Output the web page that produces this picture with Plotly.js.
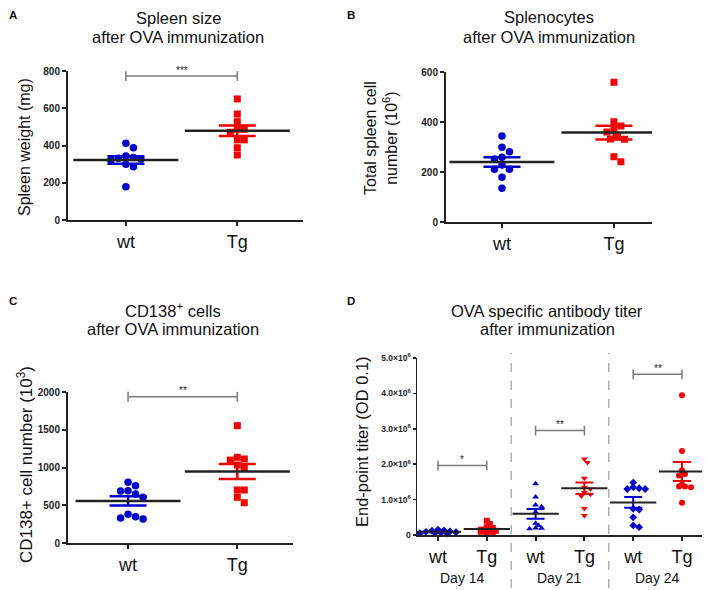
<!DOCTYPE html>
<html>
<head>
<meta charset="utf-8">
<script src="https://cdn.plot.ly/plotly-3.0.1.min.js"></script>
<style>
  body { margin: 0; background: #fff; }
  #chart { width: 708px; height: 590px; }
</style>
</head>
<body>
<div id="chart"></div>
<script>
// groups
const groups = ['wt', 'Tg'];
const titerGroups = ['wt', 'Tg', 'wt', 'Tg', 'wt', 'Tg'];
const titerDays = ['Day 14', 'Day 21', 'Day 24'];

// A: spleen weight (mg)
const spleenWt = [412, 388, 335, 331, 344, 322, 327, 299, 286, 179];
const spleenTg = [650, 569, 528, 487, 471, 487, 430, 430, 388, 349];

// B: total spleen cell number (10^6)
const cellsWt = [344, 299, 281, 259, 252, 228, 211, 211, 179, 135];
const cellsTg = [559, 401, 384, 360, 368, 341, 332, 331, 261, 241];

// C: CD138+ cell number (10^3)
const cd138Wt = [804, 759, 693, 689, 649, 605, 349, 380, 318, 331];
const cd138Tg = [1554, 1135, 1113, 1099, 989, 1033, 702, 702, 605, 534];

// D: end-point titer, in units of 10^6
const titerWt14 = [0.15, 0.13, 0.12, 0.10, 0.09, 0.08, 0.07, 0.06, 0.05, 0.04];
const titerTg14 = [0.40, 0.31, 0.22, 0.20, 0.15, 0.14, 0.12, 0.09, 0.05, 0.04];
const titerWt21 = [1.45, 1.07, 0.85, 0.80, 0.65, 0.33, 0.27, 0.20, 0.18, 0.19];
const titerTg21 = [2.15, 2.05, 1.60, 1.35, 1.30, 1.20, 1.15, 1.10, 0.75, 0.55];
const titerWt24 = [1.48, 1.35, 1.30, 1.30, 1.32, 0.74, 0.72, 0.50, 0.22, 0.27];
const titerTg24 = [3.95, 2.37, 1.82, 1.72, 1.68, 1.43, 1.37, 1.35, 1.37, 0.91];

const starsABC = ['***', '**', '**'];
const starsD = ['*', '**', '**'];

const W = 708, H = 590;
const BLUE = 'rgb(0,0,205)';
const RED = 'rgb(245,0,0)';
const AXC = '#222';
const FONT = 'Liberation Sans, Arial, sans-serif';

// pixel boxes of the four plot areas [x0, x1, yTop, yBottom]
const boxA = [68, 303, 71, 220];
const boxB = [446, 652, 72, 222];
const boxC = [68, 293, 392, 543];
const boxD = [417, 702, 358, 535];

function xdom(b) { return [b[0] / W, b[1] / W]; }
function ydom(b) { return [(H - b[3]) / H, (H - b[2]) / H]; }

function mean(v) { return v.reduce((s, a) => s + a, 0) / v.length; }
function sem(v) {
  const m = mean(v);
  const ss = v.reduce((s, a) => s + (a - m) * (a - m), 0);
  return Math.sqrt(ss / (v.length - 1)) / Math.sqrt(v.length);
}

// simple beeswarm so points do not sit on top of each other
function swarm(values, center, pxX, pxY, d, gap) {
  const order = values.map((v, i) => i).sort((a, b) => values[b] - values[a]);
  const placed = [];
  const xs = new Array(values.length);
  order.forEach(i => {
    const yp = values[i] * pxY;
    let off = 0;
    for (let k = 0; k < 60; k++) {
      const cand = (k % 2 ? 1 : -1) * Math.ceil(k / 2) * d * 0.5;
      const hit = placed.some(p => Math.hypot(p[0] - cand, p[1] - yp) < d * gap);
      if (!hit) { off = cand; break; }
    }
    placed.push([off, yp]);
    xs[i] = center + off / pxX;
  });
  return xs;
}

const traces = [];

function addGroup(xa, ya, box, xr, yr, values, pos, color, symbol, size, gap, meanW, capW, thick) {
  const pxX = (box[1] - box[0]) / (xr[1] - xr[0]);
  const pxY = (box[3] - box[2]) / (yr[1] - yr[0]);
  traces.push({
    type: 'scatter', mode: 'markers', xaxis: xa, yaxis: ya,
    x: swarm(values, pos, pxX, pxY, size, gap), y: values,
    marker: {color: color, symbol: symbol, size: size, line: {width: 0}},
    cliponaxis: false, hoverinfo: 'y'
  });
  traces.push({
    type: 'scatter', mode: 'markers', xaxis: xa, yaxis: ya,
    x: [pos], y: [mean(values)],
    marker: {color: 'rgba(0,0,0,0)', size: 1},
    error_y: {type: 'data', array: [sem(values)], visible: true, color: color, thickness: thick, width: capW},
    hoverinfo: 'skip'
  });
  traces.push({
    type: 'scatter', mode: 'markers', xaxis: xa, yaxis: ya,
    x: [pos], y: [mean(values)],
    marker: {symbol: 'line-ew', size: meanW, color: AXC, line: {color: AXC, width: thick}},
    hoverinfo: 'skip'
  });
}

const annotations = [];

function addSig(xa, ya, x0, x1, y, stars) {
  traces.push({
    type: 'scatter', mode: 'lines+markers', xaxis: xa, yaxis: ya,
    x: [x0, x1], y: [y, y], cliponaxis: false,
    line: {color: '#7a7a7a', width: 1.5},
    marker: {symbol: 'line-ns', size: 7, line: {color: '#7a7a7a', width: 1.5}},
    hoverinfo: 'skip'
  });
  annotations.push({
    xref: xa, yref: ya, x: (x0 + x1) / 2, y: y, text: stars, showarrow: false,
    yshift: 6, font: {family: FONT, size: 10, color: '#222'}
  });
}

const xrA = [-0.52, 1.59], yrA = [0, 800];
const xrB = [-0.5, 1.34], yrB = [0, 600];
const xrC = [-0.55, 1.51], yrC = [0, 2000];
const xrD = [-0.43, 5.41], yrD = [0, 5];

addGroup('x', 'y', boxA, xrA, yrA, spleenWt, 0, BLUE, 'circle', 7.5, 1, 75, 18.5, 2.5);
addGroup('x', 'y', boxA, xrA, yrA, spleenTg, 1, RED, 'square', 7, 1, 75, 18.5, 2.5);
addSig('x', 'y', 0, 1, 773, starsABC[0]);

addGroup('x2', 'y2', boxB, xrB, yrB, cellsWt, 0, BLUE, 'circle', 7.5, 1, 75, 18.5, 2.5);
addGroup('x2', 'y2', boxB, xrB, yrB, cellsTg, 1, RED, 'square', 7, 1, 75, 18.5, 2.5);
addSig('x2', 'y2', 0, 1, 605, starsABC[1]);

addGroup('x3', 'y3', boxC, xrC, yrC, cd138Wt, 0, BLUE, 'circle', 7.5, 1, 75, 18.5, 2.5);
addGroup('x3', 'y3', boxC, xrC, yrC, cd138Tg, 1, RED, 'square', 7, 1, 75, 18.5, 2.5);
addSig('x3', 'y3', 0, 1, 1937, starsABC[2]);

const dSets = [titerWt14, titerTg14, titerWt21, titerTg21, titerWt24, titerTg24];
const dSym = ['diamond', 'square', 'triangle-up', 'triangle-down', 'diamond', 'circle'];
dSets.forEach((v, i) => {
  addGroup('x4', 'y4', boxD, xrD, yrD, v, i, i % 2 ? RED : BLUE, dSym[i], 6, 0.6, 33, 9, 2);
});
addSig('x4', 'y4', 0, 1, 1.96, starsD[0]);
addSig('x4', 'y4', 2, 3, 2.95, starsD[1]);
addSig('x4', 'y4', 4, 5, 4.54, starsD[2]);

function yAxis(box, range, dtick, anchor, fontSize) {
  return {
    domain: ydom(box), range: range, dtick: dtick, tick0: 0, anchor: anchor,
    showgrid: false, zeroline: false, showline: true, linecolor: AXC, linewidth: 2,
    ticks: 'outside', ticklen: 4, tickwidth: 2, tickcolor: AXC,
    tickfont: {family: FONT, size: fontSize, color: AXC, weight: 'bold'}
  };
}
function xAxis(box, range, vals, text, anchor) {
  return {
    domain: xdom(box), range: range, anchor: anchor,
    tickvals: vals, ticktext: text,
    showgrid: false, zeroline: false, showline: true, linecolor: AXC, linewidth: 2,
    ticks: 'outside', ticklen: 4, tickwidth: 2, tickcolor: AXC,
    tickfont: {family: FONT, size: 18, color: '#111'}
  };
}

const titerTicks = [0, 1, 2, 3, 4, 5];
const titerTickText = titerTicks.map(t => t === 0 ? '0' : t.toFixed(1) + '×10<sup>6</sup>');

const yD = yAxis(boxD, yrD, 1, 'x4', 8.5);
yD.tickvals = titerTicks;
yD.ticktext = titerTickText;
yD.ticklen = 3;
yD.tickwidth = 1.5;
yD.linewidth = 1.5;

function title(x, y, text, size) {
  return {xref: 'paper', yref: 'paper', x: x / W, y: 1 - y / H, text: text, showarrow: false,
    xanchor: 'center', yanchor: 'middle', font: {family: FONT, size: size || 16.5, color: '#111'}};
}
function letter(x, y, text) {
  return {xref: 'paper', yref: 'paper', x: x / W, y: 1 - y / H, text: '<b>' + text + '</b>', showarrow: false,
    xanchor: 'left', yanchor: 'middle', font: {family: FONT, size: 11.5, color: '#111'}};
}
function ytitle(x, y, text, size) {
  const a = title(x, y, text, size);
  a.textangle = -90;
  return a;
}

annotations.push(
  letter(7, 15, 'A'), letter(345, 15, 'B'), letter(7, 301, 'C'), letter(345, 301, 'D'),
  title(178, 18, 'Spleen size'), title(178, 37, 'after OVA immunization'),
  title(549, 17, 'Splenocytes'), title(549, 37, 'after OVA immunization'),
  title(173, 310, 'CD138<sup>+</sup> cells'), title(173, 329, 'after OVA immunization'),
  title(547, 311, 'OVA specific antibody titer'), title(547, 329, 'after immunization'),
  ytitle(25, 147, 'Spleen weight (mg)', 16),
  ytitle(381, 138, 'Total spleen cell<br>number (10<sup>6</sup>)', 16),
  ytitle(25, 465, 'CD138+ cell number (10<sup>3</sup>)', 17),
  ytitle(362, 442, 'End-point titer (OD 0.1)', 16.5)
);
titerDays.forEach((d, i) => {
  annotations.push({xref: 'x4', yref: 'paper', x: 2 * i + 0.5, y: 1 - 578 / H, text: d, showarrow: false,
    yanchor: 'middle', font: {family: FONT, size: 14, color: '#111'}});
});

const shapes = [1.5, 3.5].map(x => ({
  type: 'line', xref: 'x4', yref: 'paper', x0: x, x1: x, y0: 1 - 588 / H, y1: 1 - 353 / H,
  line: {color: '#999', width: 1.2, dash: 'dash'}
}));

const layout = {
  width: W, height: H, margin: {l: 0, r: 0, t: 0, b: 0},
  paper_bgcolor: '#fff', plot_bgcolor: '#fff', showlegend: false,
  font: {family: FONT},
  xaxis: xAxis(boxA, xrA, [0, 1], groups, 'y'),
  yaxis: yAxis(boxA, yrA, 200, 'x', 10),
  xaxis2: xAxis(boxB, xrB, [0, 1], groups, 'y2'),
  yaxis2: yAxis(boxB, yrB, 200, 'x2', 10),
  xaxis3: xAxis(boxC, xrC, [0, 1], groups, 'y3'),
  yaxis3: yAxis(boxC, yrC, 500, 'x3', 10),
  xaxis4: xAxis(boxD, xrD, [0, 1, 2, 3, 4, 5], titerGroups, 'y4'),
  yaxis4: yD,
  annotations: annotations,
  shapes: shapes
};

Plotly.newPlot('chart', traces, layout, {displayModeBar: false, staticPlot: true});
</script>
</body>
</html>
